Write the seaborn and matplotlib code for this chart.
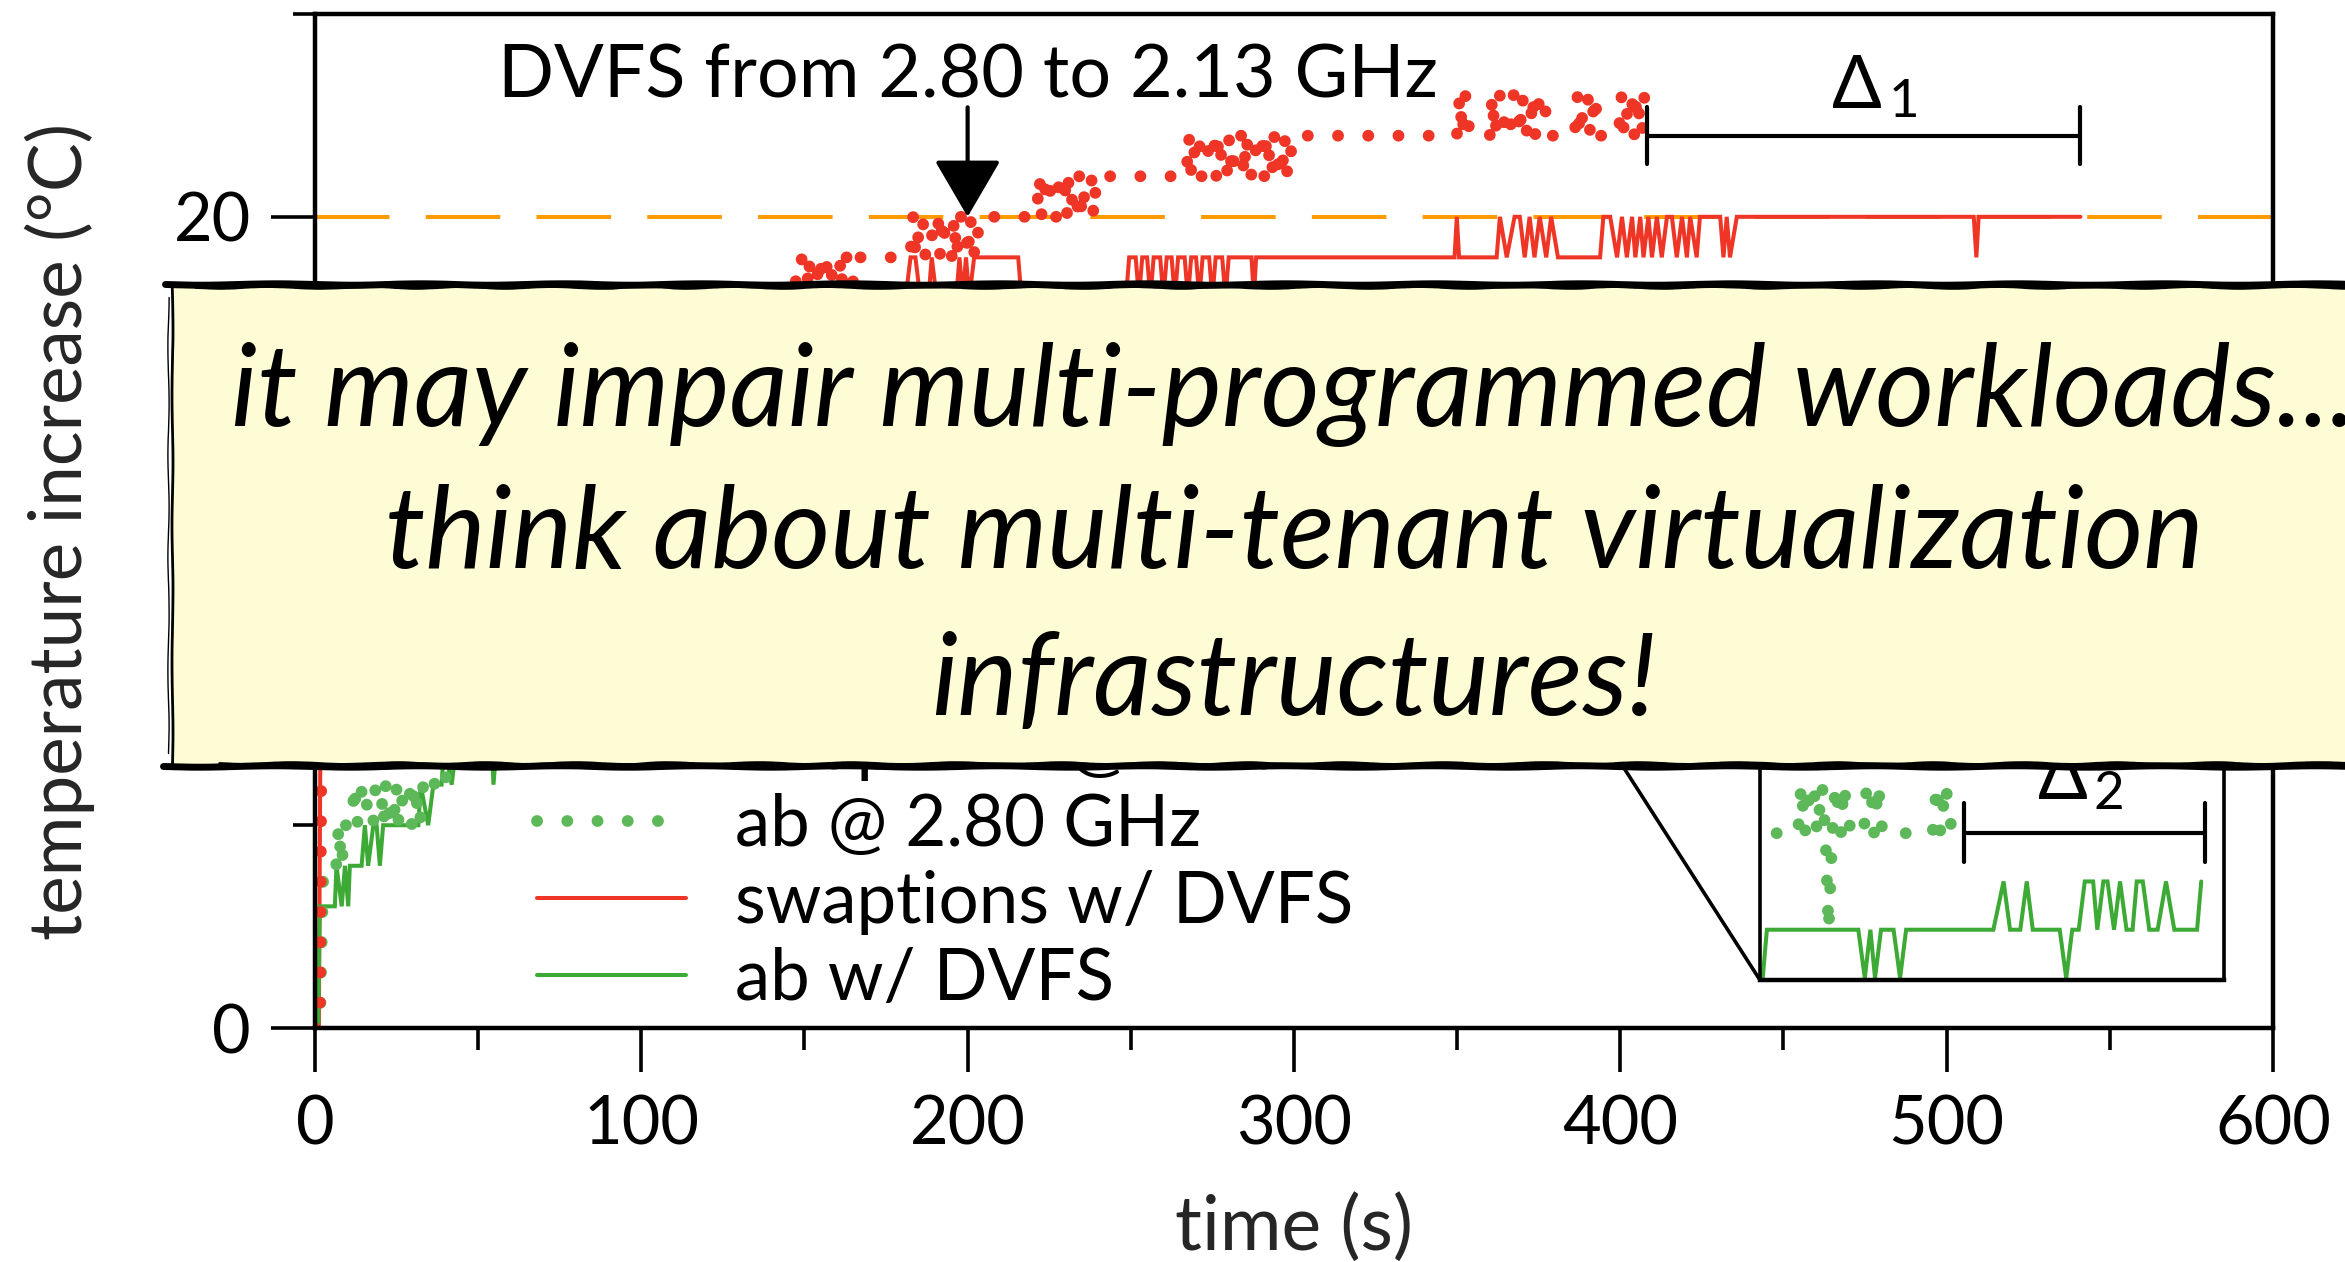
import matplotlib
matplotlib.use("Agg")
import matplotlib.pyplot as plt
import seaborn as sns
import pandas as pd
from matplotlib.patches import Rectangle, ConnectionPatch, FancyArrowPatch
from matplotlib.lines import Line2D
from matplotlib.ticker import MultipleLocator

# ---------------- data ----------------
swap_280_time = [0, 1.5, 2.5, 6, 20, 60, 110,
                 147, 147.8, 149.1, 149.9, 150.6, 151.4, 152.0, 153.6, 154.3, 154.9, 155.6, 157.2, 158.1,
                 158.7, 160.3, 161.1, 161.8, 162.6, 163.9, 164.6, 165.3,
                 182.4, 183.3, 184.1, 185.6, 186.2, 187.1, 188.7, 189.4, 190.9, 191.6, 192.3, 193.8, 195.1,
                 195.9, 196.5, 197.9, 199.2, 200.1, 200.8, 202.2, 203.8,
                 221.1, 222.0, 222.7, 224.3, 225.0, 225.8, 227.3, 228.1, 229.6, 230.4, 231.0, 232.7, 233.5,
                 234.2, 235.0, 236.4, 237.9, 238.6, 239.5,
                 267, 267.8, 268.6, 270.1, 270.9, 271.6, 273.2, 274.0, 275.5, 276.2, 276.9, 278.5, 279.4,
                 280.2, 281.0, 282.4, 283.9, 284.7, 285.3, 287.0, 287.8, 288.5, 290.1, 290.9, 291.6, 293.2,
                 294.0, 295.6, 296.3, 297.1, 298.0, 299.8,
                 349.9, 350.8, 351.6, 352.5, 353.9, 360.0, 360.8, 361.5, 363.1, 363.9, 364.6, 366.2, 367.0,
                 368.5, 369.2, 369.9, 371.5, 372.3, 373.1, 373.9, 375.3, 376.8, 377.5, 378.3, 386.0, 386.9,
                 387.6, 389.2, 390.0, 390.8, 392.3, 393.1, 399.5, 400.3, 401.2, 402.8, 403.5, 404.3, 405.0,
                 406.6, 407.4, 408.2]
swap_280_temp = [0, 0, 14, 15, 16, 17, 18,
                 18, 19, 19, 18, 18, 19, 18, 18, 19, 19, 18, 19, 19,
                 18, 18, 19, 18, 19, 19, 18, 19,
                 19, 20, 19, 20, 20, 19, 19, 20, 20, 19, 20, 19, 19,
                 20, 19, 20, 20, 19, 20, 19, 20,
                 20, 21, 20, 21, 21, 20, 20, 21, 21, 20, 21, 20, 20,
                 21, 20, 21, 21, 20, 21,
                 21, 22, 21, 22, 22, 21, 21, 22, 22, 21, 22, 21, 21,
                 22, 21, 22, 22, 21, 22, 21, 21, 22, 22, 21, 22, 21,
                 22, 21, 21, 22, 21, 22,
                 22, 23, 22, 23, 22, 22, 23, 22, 23, 23, 22, 22, 23,
                 23, 22, 23, 22, 22, 23, 22, 23, 23, 22, 22, 22, 23,
                 22, 23, 23, 22, 23, 22, 22, 23, 22, 23, 23, 22, 23,
                 22, 23, 23]

ab_280_time = [0, 1.5, 2.6, 6.5, 7.3, 8.1, 9.4, 11.3, 12.1, 12.9, 14.6, 15.5, 16.3, 17.8, 18.6, 20.2,
               21.0, 21.7, 23.3, 24.1, 24.9, 25.7, 27.4, 28.9, 29.7, 30.5, 32.1, 33.2, 35, 35.8, 36.6,
               38.2, 39.0, 39.8, 41.4, 60, 61, 120, 121, 220, 221, 390]
ab_280_temp = [0, 0, 4, 4, 5, 4, 5, 5, 6, 5, 6, 6, 5, 5, 6, 6,
               5, 6, 5, 5, 6, 5, 6, 6, 5, 6, 5, 6, 6, 7, 6,
               7, 7, 6, 7, 7, 8, 8, 9, 9, 10, 10]

swap_dvfs_time = [0, 1.2, 2.2, 8, 40, 120,
                  181, 182.5, 184, 185.5, 188, 189, 190.5, 196.5, 197.5, 198.5, 199.5, 200.5, 202, 215.5, 216.5,
                  248.5, 249.5, 251.5, 252.5, 253.5, 255, 256, 257, 259, 260, 261, 262.5, 263.5, 264.5, 266.5,
                  267.5, 268.5, 270, 271, 272, 274, 275, 276, 278, 279, 280,
                  287, 287.7, 288.4, 349.2, 349.9, 350.6,
                  362.1, 363.1, 365.2, 367.6, 369.2, 370.7, 372.2, 373.7, 375.3, 377.3, 378.8, 380.9,
                  393.8, 394.8, 396.9, 399.0, 400.5, 402.0, 403.6, 404.6, 406.1, 407.1, 408.6, 409.7, 411.2,
                  412.7, 414.3, 415.8, 417.3, 418.9, 420.4, 421.4, 423.4, 424.4, 430.6, 431.6, 432.6, 433.6,
                  435.7, 508.3, 509.1, 509.8, 541]
swap_dvfs_temp = [0, 0, 15, 16, 17, 18,
                  18, 19, 19, 18, 18, 19, 18, 18, 19, 18, 19, 18, 19, 19, 18,
                  18, 19, 19, 18, 19, 19, 18, 19, 19, 18, 19, 19, 18, 19, 19,
                  18, 19, 19, 18, 19, 19, 18, 19, 19, 18, 19,
                  19, 18, 19, 19, 20, 19,
                  19, 20, 19, 20, 20, 19, 20, 19, 20, 19, 20, 19,
                  19, 20, 20, 19, 20, 19, 20, 19, 20, 19, 20, 19, 20,
                  19, 20, 20, 19, 20, 19, 20, 19, 20, 20, 19, 20, 19,
                  20, 20, 19, 20, 20]

ab_dvfs_time = [0, 1.0, 1.5, 6.1, 6.6, 8.2, 9.2, 10.2, 10.7, 14.3, 15.3, 16.3, 17.9, 18.9, 19.9, 20.9,
                31.7, 32.4, 34.7, 36.3, 38.8, 39.6, 41.9, 43.4, 54.2, 54.7, 55.7, 70, 71, 140, 141, 250, 251, 430]
ab_dvfs_temp = [0, 0, 3, 3, 4, 3, 4, 3, 4, 4, 5, 4, 5, 5, 4, 5,
                5, 6, 5, 6, 6, 7, 6, 7, 7, 6, 7, 7, 8, 8, 9, 9, 10, 10]

# inset (zoomed view of the ab runs)
inset_dvfs_x = [0.6, 1.5, 21.2, 22.6, 23.8, 24.8, 26.1, 28.8, 30.2, 31.5, 50.3, 52.5, 53.9, 56.1, 57.5, 58.8,
                64.6, 66.0, 67.3, 68.7, 70.0, 71.8, 72.7, 74.0, 74.9, 76.3, 77.6, 79.0, 80.3, 81.2, 82.5,
                83.9, 85.7, 87.5, 89.3, 94.2, 95.1]
inset_dvfs_y = [11, 12, 12, 11, 12, 11, 12, 12, 11, 12, 12, 13, 12, 12, 13, 12,
                12, 11, 12, 12, 13, 13, 12, 13, 13, 12, 13, 12, 12, 13, 13,
                12, 12, 13, 12, 12, 13]
inset_280_x = [3.6, 8.2, 8.9, 9.7, 10.9, 11.6, 12.3, 13.4, 14.1, 14.8, 15.6, 16.3, 17.5, 18.0, 19.6,
               22.4, 23.0, 23.9, 24.6, 25.5, 26.4, 37.2, 38.1, 38.9, 40.0, 41.4]
inset_280_y = [14, 14, 15, 14, 15, 15, 14, 15, 14, 12, 14, 15, 14, 15, 14,
               14, 15, 15, 14, 15, 14, 14, 15, 14, 15, 14]

x_ticks = [0, 100, 200, 300, 400, 500, 600]
y_ticks = [0, 10, 20]
threshold = 20
legend_labels = ["swaptions @ 2.80 GHz", "ab @ 2.80 GHz", "swaptions w/ DVFS", "ab w/ DVFS"]

# ---------------- style ----------------
sns.set_theme(style="ticks")
FONT = ['Lato', 'DejaVu Sans']
plt.rcParams['font.family'] = FONT
plt.rcParams['axes.edgecolor'] = 'black'
plt.rcParams['xtick.color'] = 'black'
plt.rcParams['ytick.color'] = 'black'
plt.rcParams['text.color'] = 'black'

RED = '#EE3526'
GREEN_DOT = '#5DB85A'
GREEN = '#3DAA35'
ORANGE = '#FF9A00'
DOT = (0, (0.01, 2.55))
DOT_LW = 8.5
SOLID_LW = 2.9

fig = plt.figure(figsize=(23.45, 12.62), dpi=100)
ax = fig.add_axes([0.1343, 0.1854, 0.8350, 0.8035])

ax.axhline(threshold, color=ORANGE, lw=2.9, dashes=(18.5, 9), zorder=1.5)

def draw(axis, t, v, color, dotted):
    df = pd.DataFrame({'t': t, 'v': v})
    if dotted:
        kw = dict(linestyle=DOT, dash_capstyle='round', lw=DOT_LW)
    else:
        kw = dict(solid_joinstyle='miter', lw=SOLID_LW)
    sns.lineplot(data=df, x='t', y='v', ax=axis, color=color, estimator=None,
                 sort=False, legend=False, **kw)

draw(ax, swap_dvfs_time, swap_dvfs_temp, RED, False)
draw(ax, ab_dvfs_time, ab_dvfs_temp, GREEN, False)
draw(ax, ab_280_time, ab_280_temp, GREEN_DOT, True)
draw(ax, swap_280_time, swap_280_temp, RED, True)

ax.set_xlim(0, 600)
ax.set_ylim(0, 25)
ax.set_xticks(x_ticks)
ax.set_yticks(y_ticks)
ax.xaxis.set_minor_locator(MultipleLocator(50))
ax.yaxis.set_minor_locator(MultipleLocator(5))
ax.tick_params(which='major', length=32, width=2.6, direction='out', labelsize=48)
ax.tick_params(axis='x', which='major', pad=16)
ax.tick_params(axis='y', which='major', pad=14)
ax.tick_params(which='minor', length=16, width=2.6, direction='out')
for s in ax.spines.values():
    s.set_linewidth(3.2)
ax.set_xlabel('time (s)', fontsize=54, labelpad=26)
ax.set_ylabel('temperature increase (°C)', fontsize=52.5)
ax.yaxis.set_label_coords(-0.1124, 0.49)

# DVFS annotation
ax.text(200, 22.95, 'DVFS from 2.80 to 2.13 GHz', ha='center', va='baseline', fontsize=53)
ax.add_patch(FancyArrowPatch((200, 22.7), (200, threshold), arrowstyle='-|>,head_length=36,head_width=21',
                             mutation_scale=1, lw=3, color='black', shrinkA=0, shrinkB=0, zorder=5))

# Delta 1
d1a, d1b = swap_280_time[-1], swap_dvfs_time[-1]
ax.plot([d1a, d1b], [22, 22], color='black', lw=3)
ax.plot([d1a, d1a], [21.3, 22.7], color='black', lw=3)
ax.plot([d1b, d1b], [21.3, 22.7], color='black', lw=3)
ax.text(472.6, 22.69, 'Δ', ha='center', va='baseline', fontsize=53, family=FONT)
ax.text(482.3, 22.47, '1', ha='left', va='baseline', fontsize=38)

# legend
handles = [Line2D([], [], color=RED, lw=DOT_LW, linestyle=DOT, dash_capstyle='round'),
           Line2D([], [], color=GREEN_DOT, lw=DOT_LW, linestyle=DOT, dash_capstyle='round'),
           Line2D([], [], color=RED, lw=SOLID_LW),
           Line2D([], [], color=GREEN, lw=SOLID_LW)]
ax.legend(handles, legend_labels, loc='upper left', bbox_to_anchor=(0.229, 0.433),
          bbox_transform=fig.transFigure, frameon=False, fontsize=51, handlelength=2.1,
          handletextpad=0.7, labelspacing=0.17, borderpad=0, borderaxespad=0)

# inset
ins = fig.add_axes([0.7505, 0.2235, 0.1979, 0.2219])
ins.set_facecolor('white')
draw(ins, inset_dvfs_x, inset_dvfs_y, GREEN, False)
draw(ins, inset_280_x, inset_280_y, GREEN_DOT, True)
ins.set_xlim(0, 100)
ins.set_ylim(10.96, 16.76)
ins.set_xticks([])
ins.set_yticks([])
ins.set_xlabel('')
ins.set_ylabel('')
for s in ins.spines.values():
    s.set_linewidth(2.6)
ins.spines['bottom'].set_linewidth(3.2)
d2a, d2b = inset_280_x[-1] + 2.5, inset_dvfs_x[-1] + 0.9
ins.plot([d2a, d2b], [14, 14], color='black', lw=3)
ins.plot([d2a, d2a], [13.41, 14.63], color='black', lw=3)
ins.plot([d2b, d2b], [13.41, 14.63], color='black', lw=3)
ins.text(65.3, 14.7, 'Δ', ha='center', va='baseline', fontsize=53, family=FONT)
ins.text(71.8, 14.5, '2', ha='left', va='baseline', fontsize=38)

con = ConnectionPatch(xyA=(0, 0), coordsA=ins.transAxes, xyB=(372.5, 10), coordsB=ax.transData,
                      color='black', lw=2.6, zorder=3)
fig.add_artist(con)

# overlay note box
bx0, by0, by1 = 0.0733, 0.393, 0.775
box = Rectangle((bx0, by0), 1.1 - bx0, by1 - by0, transform=fig.transFigure,
                facecolor='#FEFCD4', edgecolor='none', zorder=20)
fig.add_artist(box)
for (xs, ys, lw, sk) in [([bx0 - 0.003, 1.05], [by1, by1], 5, (0.7, 160, 2)),
                         ([bx0 + 0.01, 1.05], [by1 - 0.0025, by1 - 0.0025], 2.0, (0.9, 120, 3)),
                         ([bx0 - 0.004, 1.05], [by0, by0], 5, (0.7, 160, 2)),
                         ([bx0 + 0.02, 1.05], [by0 + 0.0025, by0 + 0.0025], 2.0, (0.9, 120, 3)),
                         ([bx0, bx0], [by0, by1], 2.0, (0.5, 150, 2)),
                         ([bx0 - 0.0015, bx0 - 0.0015], [by0 + 0.01, by1 - 0.01], 1.0, (0.6, 120, 2))]:
    ln = Line2D(xs, ys, transform=fig.transFigure, color='black', lw=lw, zorder=21,
                solid_capstyle='round')
    ln.set_sketch_params(*sk)
    fig.add_artist(ln)

note = ["it may impair multi-programmed workloads...",
        "think about multi-tenant virtualization",
        "infrastructures!"]
for line, yb in zip(note, [0.6624, 0.5499, 0.4334]):
    fig.text(0.5518, yb, line, ha='center', va='baseline', fontsize=82, style='italic',
             family=FONT, zorder=22)

fig.savefig('out.png', dpi=100)
